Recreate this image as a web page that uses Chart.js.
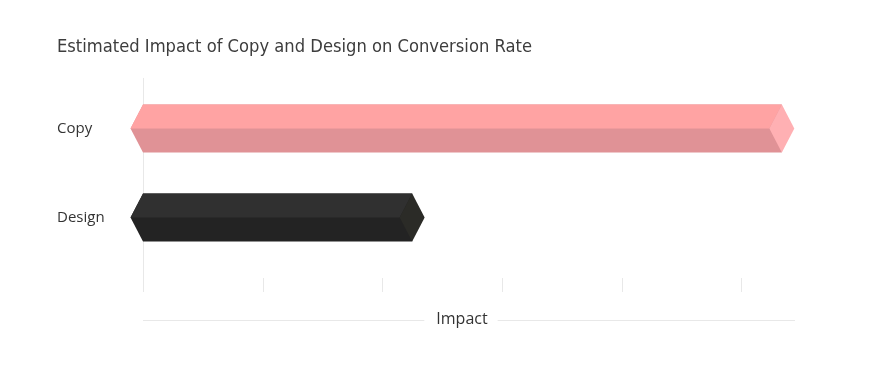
<!DOCTYPE html>
<html><head><meta charset="utf-8">
<script src="https://cdn.jsdelivr.net/npm/chart.js@4/dist/chart.umd.min.js"></script>
<style>html,body{margin:0;padding:0;background:#fff}#wrap{width:873px;height:366px;position:relative}</style>
</head><body><div id="wrap"><canvas id="c"></canvas></div>
<script>
// ---- data ----
const categories = ['Copy', 'Design'];
const impactValues = [5.34, 2.25];
const xTicks = [0, 1, 2, 3, 4, 5];
const xMax = 5.45;
const chartTitle = 'Estimated Impact of Copy and Design on Conversion Rate';
const axisTitle = 'Impact';

// ---- styles ----
const topColors = ['#FFA3A3', '#303030'];
const bottomColors = ['#E09296', '#232323'];
const capColors = ['#FFB0B3', '#2B2B27'];
const gridColor = '#e8e8e8';

const prismPlugin = {
  id: 'prism',
  beforeDatasetsDraw(chart) {
    const ctx = chart.ctx, ca = chart.chartArea, xs = chart.scales.x;
    ctx.save();
    ctx.strokeStyle = gridColor;
    ctx.lineWidth = 1;
    xTicks.forEach(v => {
      const px = Math.round(xs.getPixelForValue(v)) + 0.5;
      ctx.beginPath();
      if (v === 0) {
        ctx.moveTo(px, ca.top - 6);
      } else {
        ctx.moveTo(px, ca.bottom + 16);
      }
      ctx.lineTo(px, ca.bottom + 30);
      ctx.stroke();
    });
    // axis title with side lines
    const ty = ca.bottom + 57;
    const cx = (ca.left + ca.right) / 2 - 7;
    ctx.font = '16px "Open Sans"';
    ctx.fillStyle = '#333';
    ctx.textAlign = 'center';
    ctx.textBaseline = 'middle';
    ctx.fillText(axisTitle, cx, ty);
    const w = ctx.measureText(axisTitle).width;
    ctx.beginPath();
    ctx.moveTo(ca.left, ty + 1.5);
    ctx.lineTo(cx - w / 2 - 12, ty + 1.5);
    ctx.moveTo(cx + w / 2 + 10, ty + 1.5);
    ctx.lineTo(ca.right, ty + 1.5);
    ctx.stroke();
    ctx.restore();
  },
  afterDatasetsDraw(chart) {
    const ctx = chart.ctx;
    const meta = chart.getDatasetMeta(0);
    ctx.save();
    meta.data.forEach((bar, i) => {
      const p = bar.getProps(['x', 'y', 'base', 'height'], true);
      const left = p.base, right = p.x;
      const top = p.y - p.height / 2, bottom = p.y + p.height / 2, mid = p.y;
      const d = p.height * 0.26;
      // full body in bottom colour
      ctx.fillStyle = bottomColors[i];
      ctx.beginPath();
      ctx.moveTo(left - d, mid); ctx.lineTo(left, top); ctx.lineTo(right, top);
      ctx.lineTo(right, bottom); ctx.lineTo(left, bottom);
      ctx.closePath(); ctx.fill();
      // top face
      ctx.fillStyle = topColors[i];
      ctx.beginPath();
      ctx.moveTo(left - d, mid); ctx.lineTo(left, top); ctx.lineTo(right, top); ctx.lineTo(right - d, mid);
      ctx.closePath(); ctx.fill();
      // end cap
      ctx.fillStyle = capColors[i];
      ctx.beginPath();
      ctx.moveTo(right, top); ctx.lineTo(right + d, mid); ctx.lineTo(right, bottom); ctx.lineTo(right - d, mid);
      ctx.closePath(); ctx.fill();
    });
    ctx.restore();
  }
};

new Chart(document.getElementById('c'), {
  type: 'bar',
  data: {
    labels: categories,
    datasets: [{
      data: impactValues,
      backgroundColor: 'rgba(0,0,0,0)',
      borderWidth: 0,
      barThickness: 48
    }]
  },
  options: {
    indexAxis: 'y',
    responsive: true,
    maintainAspectRatio: false,
    animation: false,
    layout: { padding: { left: 57, right: 78, top: 0, bottom: 0 } },
    plugins: {
      legend: { display: false },
      tooltip: { enabled: false },
      title: {
        display: true,
        text: chartTitle,
        align: 'start',
        color: '#3d3d3d',
        font: { family: '"Liberation Sans Narrow", "DejaVu Sans Condensed", Roboto, sans-serif', size: 18.2, weight: 'normal', lineHeight: 1.3 },
        padding: { top: 35, bottom: 25.3 }
      }
    },
    scales: {
      x: {
        type: 'linear',
        min: 0,
        max: xMax,
        afterBuildTicks: s => { s.ticks = xTicks.map(v => ({ value: v })); },
        ticks: { display: false },
        grid: { display: false },
        border: { display: false },
        afterFit: s => { s.height = 104; }
      },
      y: {
        type: 'category',
        ticks: { crossAlign: 'far', color: '#333', font: { family: '"Open Sans"', size: 15 } },
        grid: { display: false, drawTicks: false },
        border: { display: false },
        afterFit: s => { s.width = 86; }
      }
    }
  },
  plugins: [prismPlugin]
});
</script>
</body></html>
